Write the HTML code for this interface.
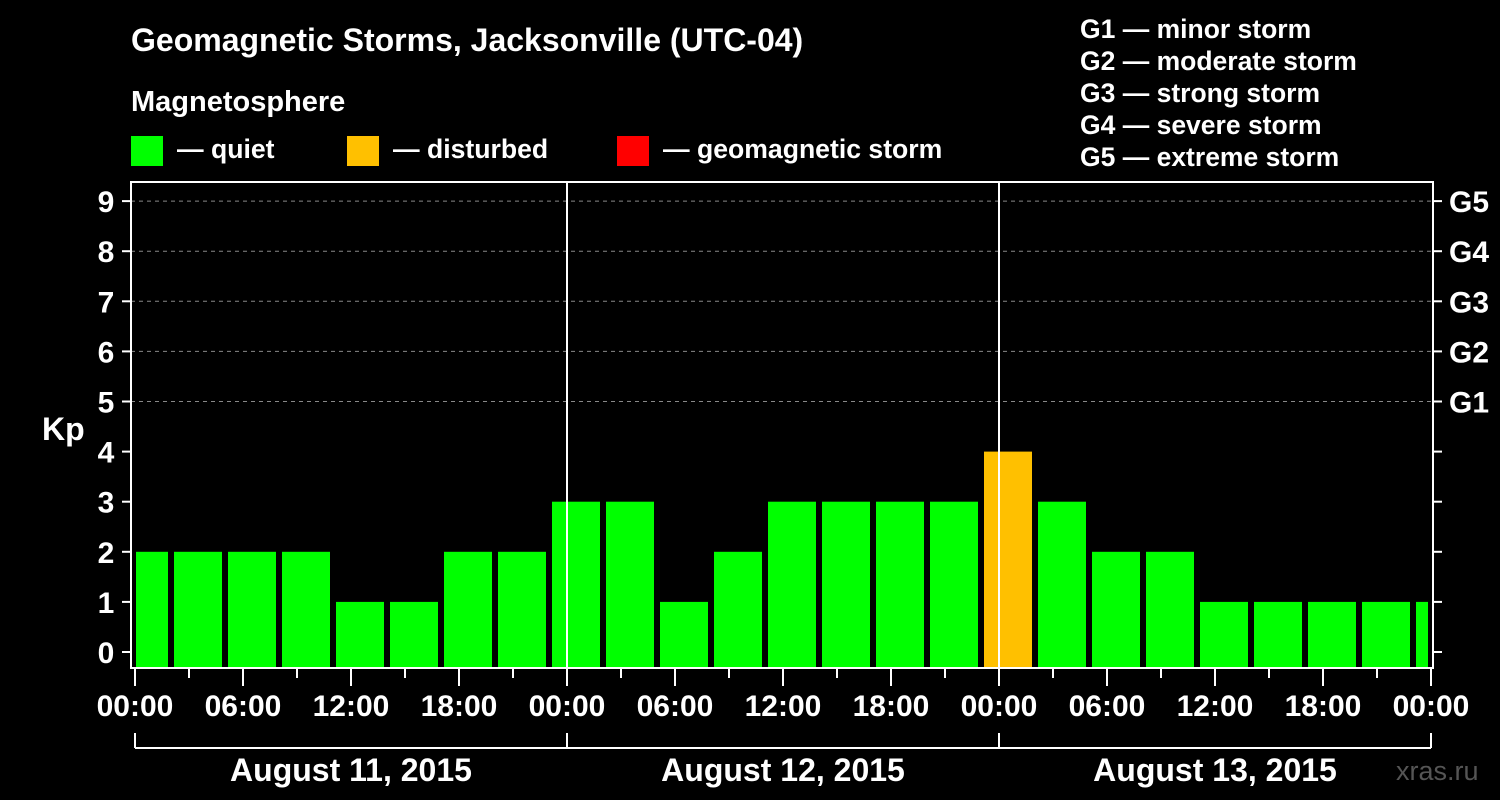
<!DOCTYPE html>
<html><head><meta charset="utf-8"><style>
html,body{margin:0;padding:0;background:#000;}
svg{display:block;font-family:"Liberation Sans",Arial,sans-serif;font-weight:bold;}
</style></head><body>
<svg id="chart" width="1500" height="800" viewBox="0 0 1500 800">
<text x="131" y="51" fill="#fff" font-size="32">Geomagnetic Storms, Jacksonville (UTC-04)</text>
<text x="131" y="111" fill="#fff" font-size="29">Magnetosphere</text>
<g><rect x="131" y="136" width="32" height="30" fill="#00ff00"/><text x="177" y="158" fill="#fff" font-size="26.6">— quiet</text></g>
<g><rect x="347" y="136" width="32" height="30" fill="#ffc000"/><text x="393" y="158" fill="#fff" font-size="26.6">— disturbed</text></g>
<g><rect x="617" y="136" width="32" height="30" fill="#ff0000"/><text x="663" y="158" fill="#fff" font-size="26.6">— geomagnetic storm</text></g>
<g fill="#fff" font-size="26.5">
<text x="1080" y="38">G1 — minor storm</text>
<text x="1080" y="70">G2 — moderate storm</text>
<text x="1080" y="102">G3 — strong storm</text>
<text x="1080" y="134">G4 — severe storm</text>
<text x="1080" y="166">G5 — extreme storm</text>
</g>
<text x="42" y="440" fill="#fff" font-size="32">Kp</text>
<text x="1396" y="780" fill="#555" font-size="27" font-weight="normal">xras.ru</text>
<g id="grid"></g>
<g id="bars"></g>
<g id="axes"></g>
</svg>
<script>
const kpValues=[2,2,2,2,1,1,2,2,3,3,1,2,3,3,3,3,4,3,2,2,1,1,1,1,1];
const yTicks=[0,1,2,3,4,5,6,7,8,9];
const gLabels=["G1","G2","G3","G4","G5"];
const xLabels=["00:00","06:00","12:00","18:00","00:00","06:00","12:00","18:00","00:00","06:00","12:00","18:00","00:00"];
const dayLabels=["August 11, 2015","August 12, 2015","August 13, 2015"];
const NS="http://www.w3.org/2000/svg";
const X0=135,PXH=18,L=131,R=1433,T=182,B=668;
const firstBarStartHour=-1;
const x=h=>X0+h*PXH;
const y=v=>652-v*50.1;
function el(tag,attrs,parent,txt){const e=document.createElementNS(NS,tag);for(const k in attrs)e.setAttribute(k,attrs[k]);if(txt!=null)e.textContent=txt;parent.appendChild(e);return e;}
const grid=document.getElementById('grid'),bars=document.getElementById('bars'),axes=document.getElementById('axes');
yTicks.forEach(v=>{
 if(v>=5){const g=el('line',{x1:L,x2:R,y1:y(v),y2:y(v),stroke:'#888','stroke-dasharray':'4,4','stroke-width':1},grid);
 
 }
 el('line',{x1:122,x2:L,y1:y(v),y2:y(v),stroke:'#fff','stroke-width':2},axes);
 el('line',{x1:R,x2:1442,y1:y(v),y2:y(v),stroke:'#fff','stroke-width':2},axes);
 const t=el('text',{x:106,y:y(v)+11,fill:'#fff','font-size':30,'text-anchor':'middle'},axes,String(v));
 
 
});
gLabels.forEach((g,i)=>{const t=el('text',{x:1449,y:y(5+i)+11,fill:'#fff','font-size':30},axes,g);
 
 });
kpValues.forEach((v,i)=>{
 let s=x(firstBarStartHour+i*3)+3,e=x(firstBarStartHour+(i+1)*3)-3;
 s=Math.max(s,X0+1);e=Math.min(e,R-5);
 const c=v>=5?'#ff0000':(v>=4?'#ffc000':'#00ff00');
 const r=el('rect',{x:s,y:y(v),width:e-s,height:B-y(v),fill:c},bars);
 
 
});
[24,48].forEach(h=>el('line',{x1:x(h),x2:x(h),y1:T,y2:B,stroke:'#fff','stroke-width':2},axes));
el('rect',{x:L,y:T,width:R-L,height:B-T,fill:'none',stroke:'#fff','stroke-width':2},axes);
for(let h=0;h<=72;h+=3){el('line',{x1:x(h),x2:x(h),y1:B,y2:h%6==0?686:678,stroke:'#fff','stroke-width':2},axes);}
xLabels.forEach((l,i)=>{const t=el('text',{x:x(i*6),y:716,fill:'#fff','font-size':30,'text-anchor':'middle'},axes,l);
 
 });
el('line',{x1:x(0),x2:x(72),y1:748,y2:748,stroke:'#fff','stroke-width':2},axes);
[0,24,48,72].forEach(h=>el('line',{x1:x(h),x2:x(h),y1:733,y2:748,stroke:'#fff','stroke-width':2},axes));
dayLabels.forEach((d,i)=>{const t=el('text',{x:x(i*24+12),y:781,fill:'#fff','font-size':32,'text-anchor':'middle'},axes,d);
 
 });
</script>
</body></html>
